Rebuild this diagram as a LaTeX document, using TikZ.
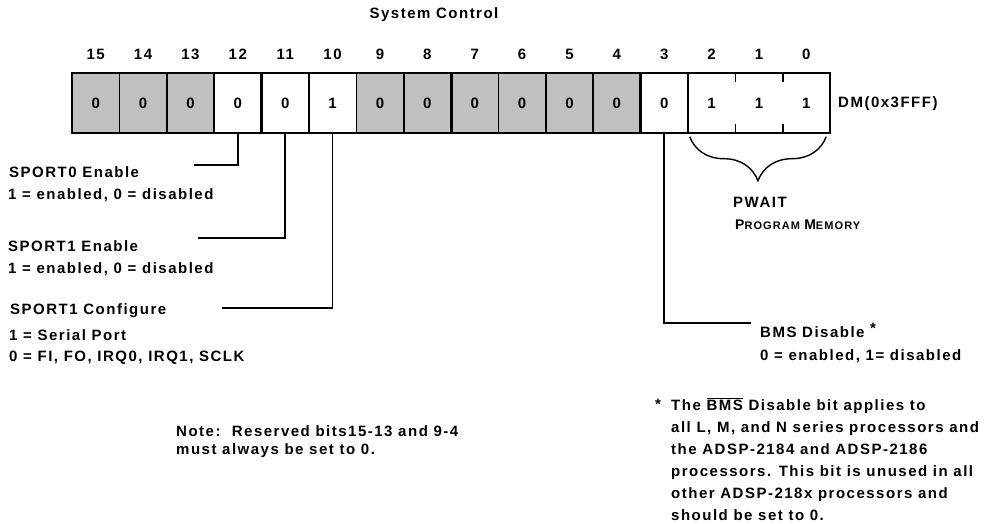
\documentclass[tikz,border=0pt]{standalone}
\usepackage{fontspec}
\setmainfont{Liberation Sans}[LetterSpace=10]
\usetikzlibrary{positioning,decorations.pathreplacing}
\definecolor{resv}{HTML}{C0C0C0}
\newcommand{\txt}[1]{\bfseries\fontsize{#1}{22}\selectfont}

\begin{document}
\begin{tikzpicture}[x=1pt,y=1pt,
  cell/.style={minimum width=47.375pt,minimum height=59pt,inner sep=0pt,font=\txt{15}},
  bitnum/.style={inner sep=0pt,anchor=base,font=\txt{15}},
  reg/.style={line width=1.8pt},
  regthick/.style={line width=3.4pt},
  conn/.style={line width=1.8pt},
  lbl/.style={anchor=west,inner sep=0pt,font=\txt{15}}]
  \useasboundingbox (0,0) rectangle (992,-524);
  \node[font=\txt{15}] (title) at (434,-15) {System Control};

  % register cells
  \coordinate (numrow) at (0,-60);
  \foreach \b/\v/\c in {15/0/resv,14/0/resv,13/0/resv,12/0/white,11/0/white,10/1/white,
                        9/0/resv,8/0/resv,7/0/resv,6/0/resv,5/0/resv,4/0/resv,
                        3/0/white,2/1/white,1/1/white,0/1/white}{
    \node[cell,fill=\c] (b\b) at ({72+(15.5-\b)*47.375},-103) {\v};
    \node[bitnum] (n\b) at (b\b |- numrow) {\b};
  }
  \draw[reg] (b15.north west) rectangle (b0.south east);
  \foreach \b in {15,14,13,11,10,9,7,6,5,3}
    \draw[reg] (b\b.north east) -- (b\b.south east);
  \foreach \b in {12,8,4}
    \draw[regthick] (b\b.north east) -- (b\b.south east);
  \foreach \b in {2,1}{
    \draw[reg] (b\b.north east) -- ++(0,-9);
    \draw[reg] (b\b.south east) -- ++(0,9);
  }
  \node[lbl] (dm) at (838,-104) {DM(0x3FFF)};

  % PWAIT brace
  \draw[line width=1.4pt,decorate,decoration={brace,mirror,amplitude=44pt}]
    ([xshift=2pt,yshift=-4pt]b2.south west) -- ([xshift=-4pt,yshift=-4pt]b0.south east);
  \node[lbl] (pw) at (733,-202) {PWAIT};
  \node[lbl] (pm) at (735,-225) {\txt{14}P\txt{11}ROGRAM \txt{14}M\txt{11}EMORY};

  % bit descriptions
  \node[lbl] (s0a) at (9,-172) {SPORT0 Enable};
  \node[lbl] (s0b) at (8,-195) {1 = enabled, 0 = disabled};
  \node[lbl] (s1a) at (8,-246) {SPORT1 Enable};
  \node[lbl] (s1b) at (8,-269) {1 = enabled, 0 = disabled};
  \node[lbl] (c1a) at (10,-311) {SPORT1 Configure};
  \node[lbl] (c1b) at (9,-335) {1 = Serial Port};
  \node[lbl] (c1c) at (9,-358) {0 = FI, FO, IRQ0, IRQ1, SCLK};
  \node[lbl] (bma) at (760,-330) {BMS Disable \raisebox{4pt}{*}};
  \node[lbl] (bmb) at (760,-356) {0 = enabled, 1= disabled};

  \coordinate (e12) at (194,-165);
  \coordinate (e11) at (198,-238);
  \coordinate (e10) at (222,-308);
  \coordinate (e3) at (751,-323);
  \draw[conn] (b12.south) |- (e12);
  \draw[conn] (b11.south) |- (e11);
  \draw[conn] (b10.south) |- (e10);
  \draw[conn] (b3.south) |- (e3);

  % notes
  \node[lbl] (note) at (176,-431) {Note:\ \ Reserved bits15-13 and 9-4};
  \node[lbl] (note2) at (176,-451) {must always be set to 0.};
  \node[lbl] (star) at (655,-404) {*};
  \node[lbl,align=left] (fn) at (671,-459)
    {The $\overline{\mbox{BMS}}$ Disable bit applies to\\
     all L, M, and N series processors and\\
     the ADSP-2184 and ADSP-2186\\
     processors. This bit is unused in all\\
     other ADSP-218x processors and\\
     should be set to 0.};
\end{tikzpicture}
\end{document}
